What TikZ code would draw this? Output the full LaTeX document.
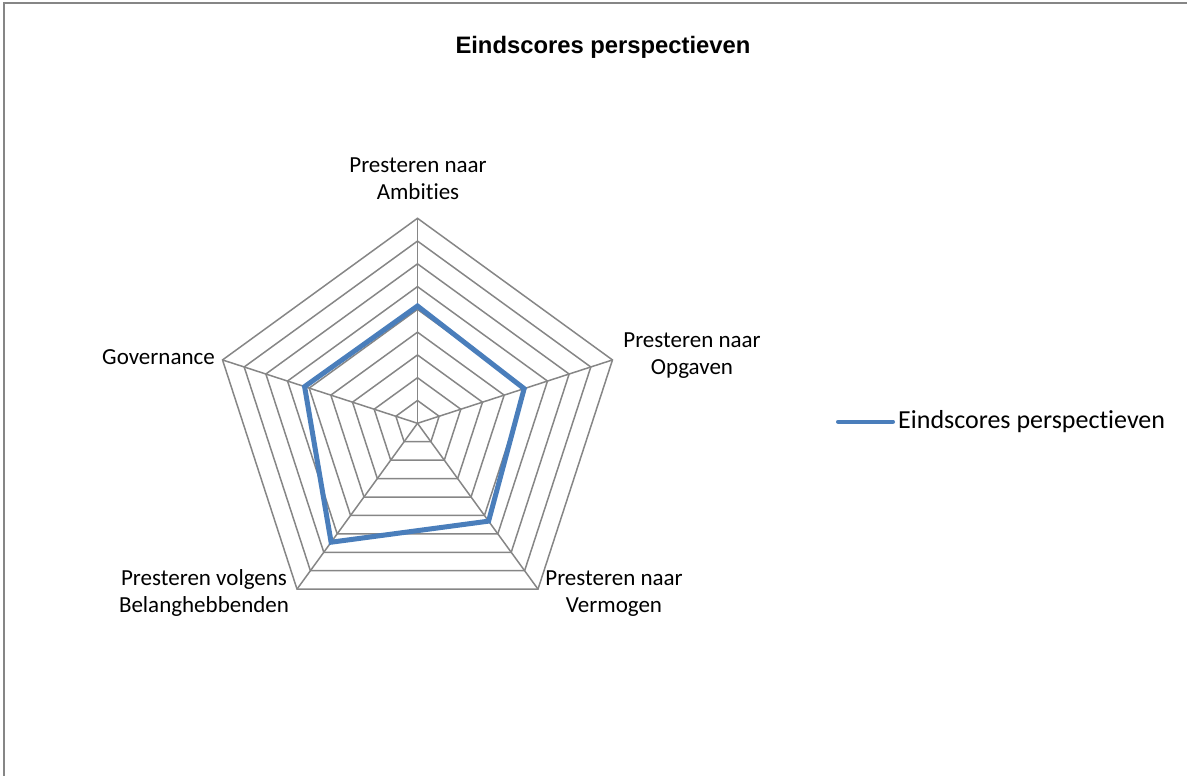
\documentclass[tikz,border=0pt]{standalone}
\usepackage{fontspec}
\setmainfont{Carlito}[Ligatures=NoCommon]
\newfontfamily\arialfont{Liberation Sans}
\usepackage{xcolor}
\definecolor{gridgray}{RGB}{134,134,134}
\definecolor{scoreblue}{RGB}{74,126,187}
\usepackage{tikz}
\usetikzlibrary{positioning}
\tikzset{
  grid/.style={gridgray, line width=1.5pt},
  score/.style={scoreblue, line width=5pt, line join=miter},
  axislabel/.style={font=\fontsize{23}{27}\selectfont, align=center, inner sep=0pt, anchor=base},
}

\begin{document}
\begin{tikzpicture}[x=1pt,y=1pt]
\useasboundingbox (0,0) rectangle (1187,776);
\draw [gridgray, line width=2pt] (3.5,-20) -- (3.5,772.5) -- (1210,772.5);
\node [font=\arialfont\bfseries\fontsize{23.8}{28}\selectfont, anchor=base, inner sep=0pt]
  (title) at (603,722.7) {Eindscores perspectieven};

\coordinate (centre) at (417.5,352.7);
\begin{scope}[shift={(centre)}]
% rings
\foreach \r in {1,...,9}
  \draw [grid] (90:{\r*205/9}) -- (18:{\r*205/9}) -- (-54:{\r*205/9})
    -- (-126:{\r*205/9}) -- (162:{\r*205/9}) -- cycle;
% spokes
\foreach \a in {90,18,-54,-126,162}
  \draw [grid] (0,0) -- (\a:205);
% scores
\coordinate (ambities) at (90:{0.572*205});
\coordinate (opgaven) at (18:{0.547*205});
\coordinate (vermogen) at (-54:{0.59*205});
\coordinate (belang) at (-126:{0.717*205});
\coordinate (governance) at (162:{0.579*205});
\draw [score] (ambities) -- (opgaven) -- (vermogen) -- (belang) -- (governance) -- cycle;
\end{scope}

% labels (base = last line)
\node [axislabel] (lab-ambities) at (418,576) {Presteren naar\\Ambities};
\node [axislabel] (lab-opgaven) at (692,401) {Presteren naar\\Opgaven};
\node [axislabel] (lab-vermogen) at (614,163) {Presteren naar\\Vermogen};
\node [axislabel] (lab-belang) at (204,163) {Presteren volgens\\Belanghebbenden};
\node [axislabel] (lab-governance) at (158.5,411) {Governance};

% legend
\coordinate (leg-start) at (838,354.3);
\coordinate (leg-end) at (893,354.3);
\draw [score, line width=4pt, line cap=round] (leg-start) -- (leg-end);
\node [font=\fontsize{26}{31}\selectfont, anchor=base west, inner sep=0pt]
  (leg-text) at (898,347.7) {Eindscores perspectieven};
\end{tikzpicture}
\end{document}
